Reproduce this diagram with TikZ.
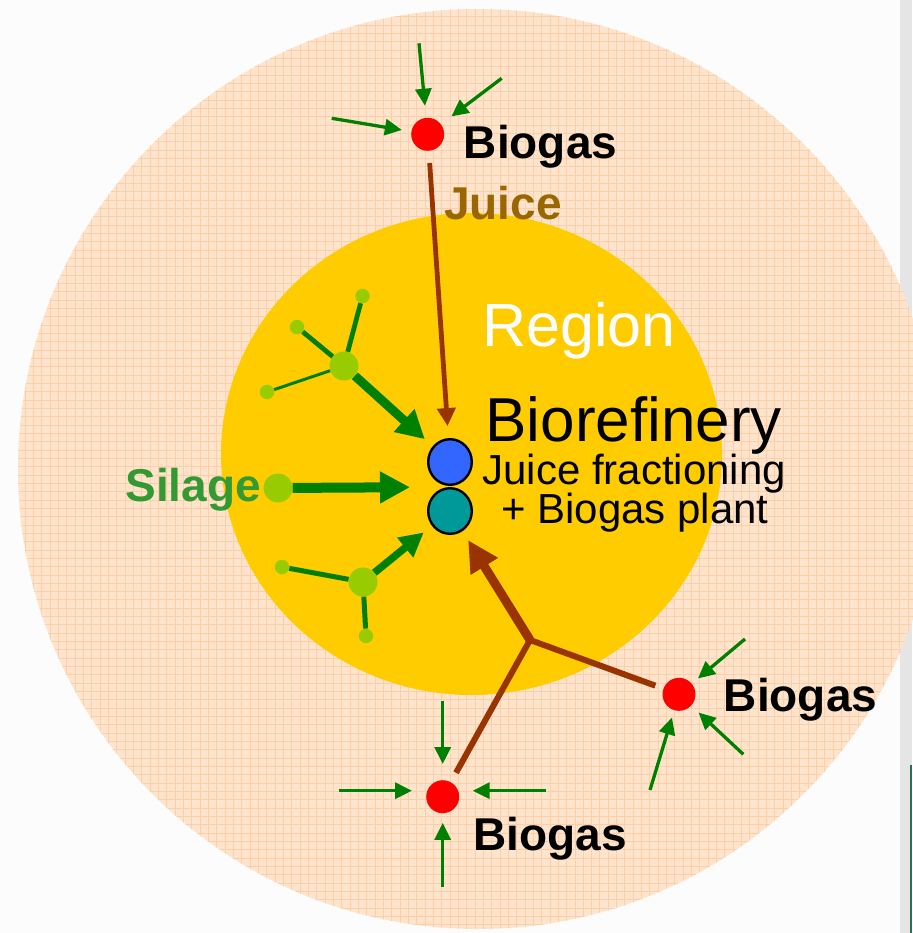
\documentclass[tikz,border=0pt]{standalone}
\usepackage{fontspec}
\setmainfont{Liberation Sans}
\usetikzlibrary{arrows.meta,shapes.geometric}
\definecolor{peach}{RGB}{254,228,204}
\definecolor{gridline}{RGB}{252,207,166}
\definecolor{gold}{RGB}{255,204,0}
\definecolor{leaf}{RGB}{0,128,0}
\definecolor{lime}{RGB}{153,204,0}
\definecolor{rust}{RGB}{153,51,0}
\definecolor{juicecol}{RGB}{153,102,0}
\definecolor{silagecol}{RGB}{51,153,51}
\definecolor{plantblue}{RGB}{51,102,255}
\definecolor{plantteal}{RGB}{0,153,153}
\definecolor{framegreen}{RGB}{40,110,80}
\tikzset{
  lbl/.style={font=\bfseries\fontsize{46}{46}\selectfont, inner sep=0pt, anchor=base},
  feed/.style={draw=leaf, line width=3.3pt, -{Triangle[length=17pt,width=16pt]}},
  gasdot/.style={circle, fill=red, inner sep=0pt, minimum size=33pt},
  bigdot/.style={circle, fill=lime, inner sep=0pt, minimum size=29pt},
  smalldot/.style={circle, fill=lime, inner sep=0pt, minimum size=14.5pt},
  plantunit/.style={ellipse, draw=black, line width=2.4pt, inner sep=0pt, minimum width=43.6pt, minimum height=45.6pt},
}
\begin{document}
\begin{tikzpicture}[x=1pt,y=-1pt]
\useasboundingbox (0,0) rectangle (912,933);
\fill[white!99!black] (0,0) rectangle (912,933);
\fill[black!10] (900,0) rectangle (912,933);
\draw[framegreen, line width=1.5pt] (911,765) -- (911,933);
% region circles
\fill[peach] (478,469) circle[radius=460pt];
\begin{scope}
\clip (478,469) circle[radius=460pt];
\draw[gridline, line width=0.55pt, step=8.33pt] (18,929) grid (938,9);
\end{scope}
\fill[gold] (471.5,454) ellipse[x radius=250.5pt, y radius=241pt];
\node[font=\fontsize{61}{61}\selectfont, text=white, inner sep=0pt, anchor=base] (reg) at (579.2,346) {Region};
% texts
\node[lbl] (tgas) at (540.5,158.3) {Biogas};
\node[lbl] (rgas) at (800.5,711.7) {Biogas};
\node[lbl] (bgas) at (550.4,850) {Biogas};
\node[lbl, text=juicecol] (juice) at (502.9,220) {Juice};
\node[lbl, text=silagecol] (silage) at (193.2,501.7) {Silage};
\node[font=\fontsize{62}{62}\selectfont, inner sep=0pt, anchor=base] (bioref) at (633.7,441.7) {Biorefinery};
\node[font=\fontsize{42}{42}\selectfont, inner sep=0pt, anchor=base] (frac) at (634.2,484.3) {Juice fractioning};
\node[font=\fontsize{42}{42}\selectfont, inner sep=0pt, anchor=base] (bgp) at (635,523.3) {+ Biogas plant};
% plant and biogas dots
\node[plantunit, fill=plantblue] (blue) at (450,462) {};
\node[plantunit, fill=plantteal] (teal) at (450,511) {};
\coordinate (plant) at (450,487);
\node[gasdot] (T) at (427.7,134.3) {};
\node[gasdot] (R) at (679,694.3) {};
\node[gasdot] (B) at (442.7,796.7) {};
% silage
\node[bigdot] (S) at (278,488) {};
\node[bigdot] (U) at (344,366) {};
\node[smalldot] (U1) at (362.5,296) {};
\node[smalldot] (U2) at (297,327) {};
\node[smalldot] (U3) at (267,392) {};
\node[bigdot] (L) at (363,582) {};
\node[smalldot] (L1) at (282,567) {};
\node[smalldot] (L2) at (366,636) {};
\draw[leaf, line width=4.8pt] (U) -- (U1) (U) -- (U2);
\draw[leaf, line width=3pt] (U) -- (U3);
\draw[leaf, line width=5pt] (L) -- (L1) (L) -- (L2);
\draw[leaf, line width=10pt, -{Triangle[length=30pt,width=30pt]}, shorten >=40pt] (S) -- (plant);
\draw[leaf, line width=9pt, -{Triangle[length=28pt,width=29pt]}, shorten >=10.5pt] (U) -- (blue);
\draw[leaf, line width=7.5pt, -{Triangle[length=24pt,width=24pt]}, shorten >=10.5pt] (L) -- (teal);
% juice
\coordinate (J) at (530,640);
\draw[rust, line width=4.8pt, -{Triangle[length=18pt,width=18pt]}, shorten <=12pt, shorten >=12pt] (T) -- (blue);
\draw[rust, line width=9pt, -{Triangle[length=31pt,width=30pt]}, shorten >=10.5pt] (J) -- (teal);
\draw[rust, line width=6pt, shorten <=10.7pt, shorten >=8.5pt] (B) -- (J) -- (R);
% feed arrows
\coordinate (t1) at (419,43.3);
\coordinate (t2) at (501.7,78.3);
\coordinate (t3) at (331.7,118.3);
\draw[feed, shorten >=12pt] (t1) -- (T);
\draw[feed, shorten >=13pt] (t2) -- (T);
\draw[feed, shorten >=9.5pt] (t3) -- (T);
\coordinate (b1) at (442.7,700.7);
\coordinate (b2) at (339,790.7);
\coordinate (b3) at (546,790.7);
\coordinate (b4) at (442.7,886.7);
\draw[feed, shorten >=16pt] (b1) -- (B);
\draw[feed, shorten >=30.7pt] (b2) -- (b2 -| B);
\draw[feed, shorten >=30pt] (b3) -- (b3 -| B);
\draw[feed, shorten >=9.5pt] (b4) -- (B);
\coordinate (r1) at (745,639);
\coordinate (r2) at (743.3,754.3);
\coordinate (r3) at (650,790);
\draw[feed, shorten >=8pt] (r1) -- (R);
\draw[feed, shorten >=10pt] (r2) -- (R);
\draw[feed, shorten >=7.5pt] (r3) -- (R);
\end{tikzpicture}
\end{document}
